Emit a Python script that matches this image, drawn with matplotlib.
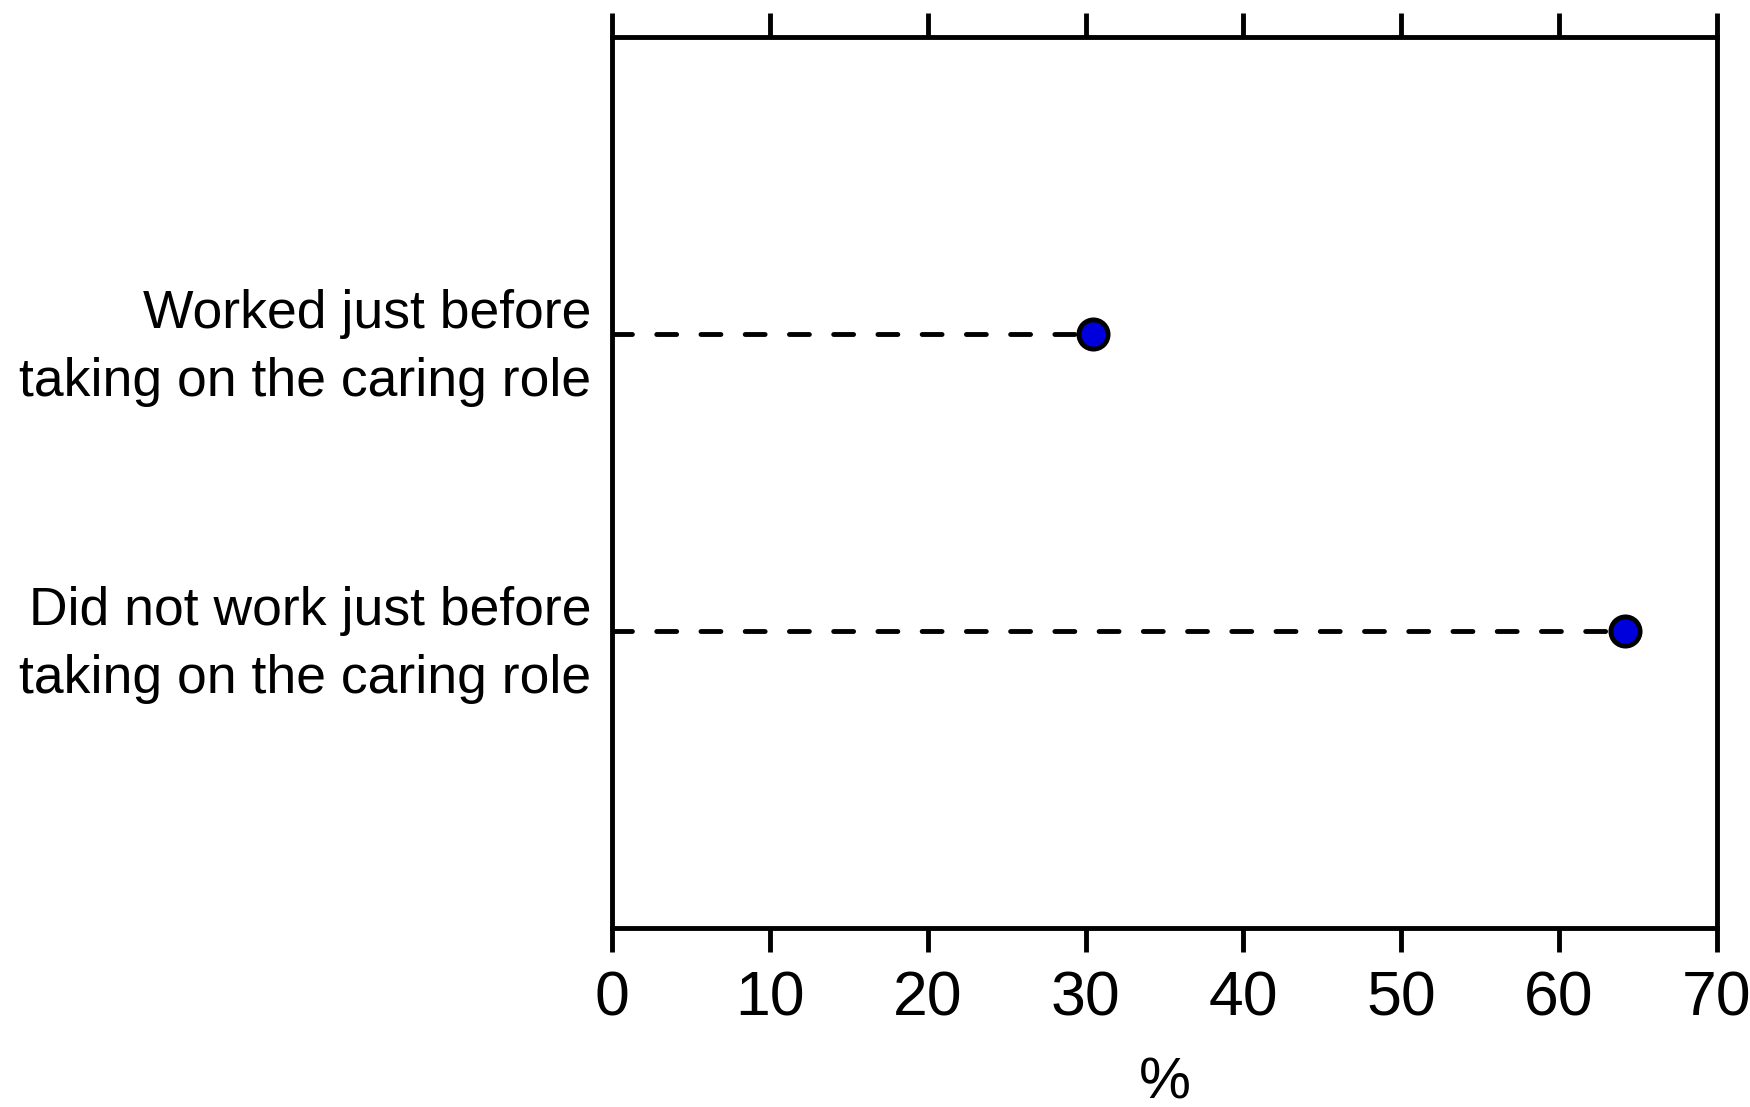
import matplotlib
matplotlib.use("Agg")
import matplotlib.pyplot as plt

# Data
categories = ["Worked just before\ntaking on the caring role",
              "Did not work just before\ntaking on the caring role"]
values = [30.5, 64.2]
x_ticks = [0, 10, 20, 30, 40, 50, 60, 70]

# Figure base
plt.rcParams["font.family"] = ["Liberation Sans", "DejaVu Sans"]
fig = plt.figure(figsize=(17.5, 11.07), dpi=100)
ax = fig.add_axes([0.3497, 0.1617, 0.6314, 0.8049])

# Dashed leader lines and dots
for i, v in enumerate(values):
    ax.plot([0, v], [i, i], color="black", lw=3.5, ls=(0, (4.1, 5.0)),
            dash_capstyle="round", zorder=2)
ax.plot(values, range(len(values)), "o", color="#0000dd", markersize=21,
        markeredgecolor="black", markeredgewidth=3.5, zorder=3, clip_on=False)

# Axes settings
ax.set_xlim(0, 70)
ax.set_ylim(2, -1)
ax.set_xticks(x_ticks)
ax.set_xticklabels([str(t) for t in x_ticks], fontsize=45)
ax.set_yticks(range(len(categories)))
ax.set_yticklabels(categories, fontsize=38.5, linespacing=1.45)
ax.tick_params(axis="x", direction="out", length=17, width=3.5, pad=13,
               top=True, labeltop=False)
ax.tick_params(axis="y", length=0, pad=15)
ax.set_xlabel("%", fontsize=42, labelpad=20)

for spine in ax.spines.values():
    spine.set_linewidth(3.5)

fig.savefig("out.png", dpi=100)
